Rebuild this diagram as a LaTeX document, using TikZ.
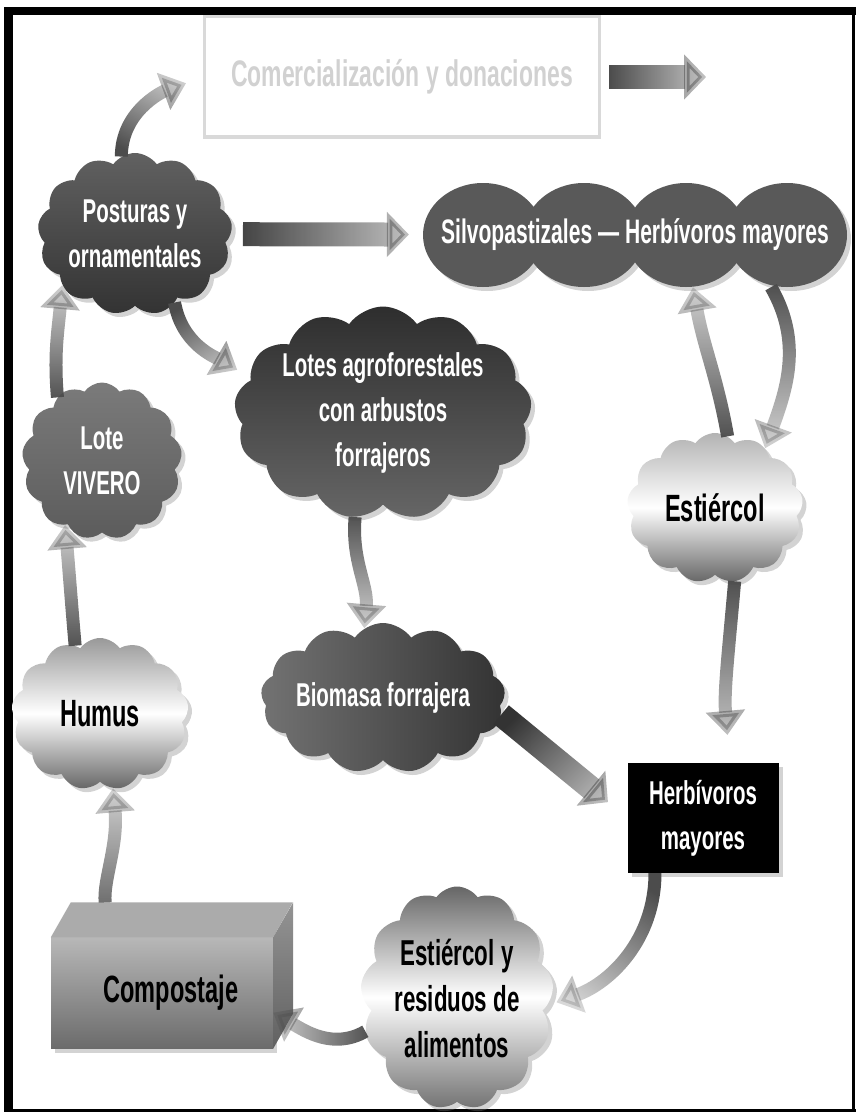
\documentclass[tikz,border=0pt]{standalone}
\usepackage{fontspec}
\setmainfont{Liberation Sans}[FakeStretch=0.62]
\usetikzlibrary{shapes.symbols,shadows,arrows.meta,fadings,positioning}

\tikzfading[name=flowfade, left color=transparent!0, right color=transparent!78]

\begin{document}
\begin{tikzpicture}[x=1pt,y=1pt,
wtxt/.style={text=white,align=center,font=\bfseries\fontsize{33}{45}\selectfont},
btxt/.style={text=black,align=center,font=\bfseries\fontsize{38}{48}\selectfont},
shad/.style={drop shadow={opacity=0.35,shadow xshift=4pt,shadow yshift=-4pt}},
puff/.style={cloud,cloud puffs=13,cloud puff arc=110,cloud ignores aspect,inner sep=0pt,shad},
flow/.style={line width=13pt,draw=black!70,-{Triangle[length=24pt,width=38pt]},path fading=flowfade,fading angle=#1},
bigflow/.style={line width=24pt,draw=black!80,-{Triangle[length=22pt,width=44pt]},path fading=flowfade,fading angle=#1}]

\useasboundingbox (0,0) rectangle (856,-1113);
\fill (4,-7) rectangle (856,-15);
\fill (4,-7) rectangle (13,-1112);
\fill (852,-7) rectangle (855,-1112);
\fill (4,-1109) rectangle (856,-1112);

\node[draw=black!15,line width=3pt,text=black!18,minimum width=395,minimum height=120,
  font=\bfseries\fontsize{37}{44}\selectfont] (comer) at (402,-77) {Comercialización y donaciones};
\coordinate (fin) at (706,-77);

\node[puff,wtxt,top color=black!62,bottom color=black!80,minimum width=180,minimum height=162] (post) at (135,-234) {Posturas y\\ornamentales};
\node[puff,wtxt,top color=black!52,bottom color=black!64,minimum width=160,minimum height=157] (vivero) at (102,-461) {Lote\\VIVERO};
\node[puff,wtxt,top color=black!82,bottom color=black!60,minimum width=240,minimum height=213] (lotes) at (383,-413) {Lotes agroforestales\\con arbustos\\forrajeros};
\node[puff,wtxt,left color=black!55,right color=black!80,minimum width=227,minimum height=150] (biomasa) at (383,-698) {Biomasa forrajera};

\node[puff,btxt,top color=black!40,bottom color=black!60,middle color=white,minimum width=177,minimum height=152] (humus) at (100,-714) {Humus};
\node[puff,btxt,top color=black!30,bottom color=black!60,middle color=white,minimum width=176,minimum height=150] (estiercol) at (715,-508) {Estiércol};
\node[puff,btxt,top color=black!60,bottom color=black!55,middle color=white,minimum width=160,minimum height=223,
  font=\bfseries\fontsize{36}{46}\selectfont] (residuos) at (457,-998) {Estiércol y\\residuos de\\alimentos};

\fill[black!65,shad] foreach \cx in {483,584,686,787} {(\cx,-235) ellipse (60 and 52)};
\node[wtxt,minimum width=424,minimum height=104,font=\bfseries\fontsize{34}{40}\selectfont] (silvo) at (635,-235) {Silvopastizales — Herbívoros mayores};

\node[wtxt,fill=black,minimum width=151,minimum height=110,shad] (herb) at (703,-818) {Herbívoros\\mayores};

\node[btxt,top color=black!28,bottom color=black!58,minimum width=222,minimum height=111,shad] (comp) at (162,-993) {\hspace{18pt}Compostaje};
\fill[black!33] (comp.north west) -- ++(20,35) -- ++(222,0) -- (comp.north east) -- cycle;
\shade[top color=black!42,bottom color=black!62] (comp.north east) -- ++(20,35) -- ++(0,-111) -- (comp.south east) -- cycle;


\draw[flow=60,shorten >=18pt] (post.100) to[out=90,in=200] (comer.west);
\draw[bigflow=0,shorten <=8pt] (comer) -- (fin);
\draw[bigflow=0,shorten <=12pt,shorten >=14pt] (post) -- (silvo);
\draw[flow=-60,shorten >=15pt] (post.-60) to[out=-80,in=150] (lotes.165);
\draw[flow=90] (vivero.125) to[out=95,in=-95] (post.-145);
\draw[flow=90] (humus.110) to[out=95,in=-85] (vivero.-120);
\draw[flow=-90] (lotes.-105) to[out=-95,in=85] (biomasa.105);
\draw[flow=90] (estiercol.80) to[out=100,in=-80] (silvo.-42);
\draw[flow=-90] (silvo.-21) to[out=-60,in=70] (estiercol.50);
\draw[flow=-90,shorten >=28pt] (estiercol.-75) to[out=-95,in=95] (herb.64);
\draw[bigflow=-40,shorten >=25pt] (biomasa.-8) -- (herb.west);
\draw[flow=-120,shorten >=10pt] (herb.-131) to[out=-90,in=20] (residuos.-5);
\draw[flow=180] (residuos.-160) to[out=-150,in=-30] (comp.-10);
\draw[flow=90,shorten <=35pt] (comp.134) to[out=95,in=-85] (humus.-80);

\end{tikzpicture}
\end{document}
